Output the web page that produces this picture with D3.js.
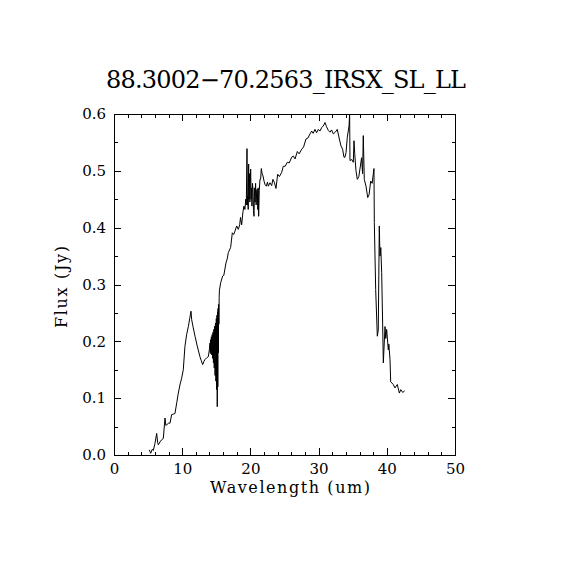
<!DOCTYPE html>
<html>
<head>
<meta charset="utf-8">
<script src="https://cdn.jsdelivr.net/npm/d3@7"></script>
<style>
  body { margin: 0; background: #fff; }
  svg { display: block; }
</style>
</head>
<body>
<div id="chart"></div>
<script>
// spectrum
const wavelength = [
  5.18, 5.38, 5.60, 5.77, 6.00, 6.26, 6.40, 6.50, 6.74, 7.00, 7.23, 7.48, 7.60, 7.72,
  8.00, 8.21, 8.45, 8.70, 8.94, 9.20, 9.43, 9.70, 9.92, 10.16, 10.40, 10.65, 10.90,
  11.10, 11.29, 11.39, 11.60, 11.88, 12.20, 12.60, 12.80, 13.00, 13.20, 13.34, 13.59,
  13.83, 13.98,
  14.08, 14.12, 14.16, 14.22, 14.28, 14.34, 14.40, 14.46, 14.52, 14.58, 14.64, 14.70,
  14.76, 14.82, 14.88, 14.94, 15.00, 15.06, 15.10, 15.14, 15.18, 15.22, 15.26, 15.30,
  15.34, 15.38, 15.42, 15.46,
  15.64, 15.93, 16.10, 16.42, 16.60, 16.76, 17.10, 17.35, 17.55, 17.74, 17.99, 18.23,
  18.43, 18.55, 18.72, 18.91, 19.05, 19.20, 19.31, 19.40, 19.50, 19.56, 19.62, 19.68,
  19.74, 19.80, 19.86, 19.92, 19.98, 20.04, 20.10, 20.16, 20.23, 20.30, 20.38, 20.45,
  20.53, 20.60, 20.68, 20.76, 20.84, 20.92, 21.01, 21.08, 21.14, 21.21, 21.30, 21.40,
  21.50, 21.60, 21.72, 21.85, 22.00, 22.14, 22.33, 22.50, 22.63, 22.87, 23.12, 23.30,
  23.50, 23.75, 24.00, 24.25, 24.58, 24.82, 25.10, 25.41, 25.70, 26.05, 26.30, 26.55,
  26.88, 27.15, 27.52, 27.80, 28.15, 28.45, 28.74, 28.99, 29.20, 29.47, 29.70, 29.96,
  30.20, 30.45, 30.69, 30.94, 31.15, 31.43, 31.67, 31.90, 32.16, 32.45, 32.74, 33.04,
  33.28, 33.52, 33.72, 33.87, 34.02, 34.21, 34.46, 34.55, 34.60, 34.85, 35.09, 35.19,
  35.30, 35.48, 35.68, 35.90, 36.17, 36.30, 36.45, 36.55, 36.70, 36.95, 37.20, 37.40,
  37.64, 37.85, 38.12, 38.17, 38.37, 38.61, 38.75, 38.90, 39.00, 39.12, 39.25, 39.39,
  39.49, 39.74, 39.85, 39.98, 40.22, 40.30, 40.47, 40.57, 40.95, 41.20, 41.54, 41.84,
  42.05, 42.33, 42.62
];
const flux = [
  0.009, 0.003, 0.010, 0.008, 0.020, 0.038, 0.022, 0.018, 0.023, 0.027, 0.029, 0.065, 0.052, 0.053,
  0.056, 0.056, 0.071, 0.072, 0.073, 0.092, 0.109, 0.125, 0.135, 0.150, 0.191, 0.212, 0.226,
  0.240, 0.253, 0.238, 0.225, 0.209, 0.192, 0.173, 0.166, 0.159, 0.165, 0.168, 0.171,
  0.173, 0.185,
  0.197, 0.180, 0.203, 0.178, 0.208, 0.176, 0.212, 0.170, 0.216, 0.162, 0.221, 0.153,
  0.227, 0.140, 0.232, 0.130, 0.240, 0.115, 0.246, 0.085, 0.252, 0.120, 0.258, 0.180,
  0.265, 0.230, 0.277, 0.290,
  0.303, 0.315, 0.316, 0.338, 0.345, 0.356, 0.365, 0.391, 0.388, 0.394, 0.403, 0.397,
  0.405, 0.418, 0.405, 0.428, 0.438, 0.432, 0.450, 0.440, 0.539, 0.440, 0.455, 0.432,
  0.512, 0.450, 0.495, 0.445, 0.480, 0.503, 0.450, 0.470, 0.438, 0.478, 0.468, 0.430,
  0.420, 0.470, 0.445, 0.478, 0.440, 0.465, 0.468, 0.432, 0.470, 0.420, 0.465, 0.485,
  0.485, 0.504, 0.495, 0.491, 0.482, 0.476, 0.473, 0.480, 0.473, 0.479, 0.474, 0.485,
  0.480, 0.469, 0.494, 0.490, 0.497, 0.508, 0.508, 0.515, 0.514, 0.524, 0.526, 0.521,
  0.534, 0.530, 0.538, 0.542, 0.556, 0.558, 0.565, 0.570, 0.566, 0.573, 0.567, 0.573,
  0.570, 0.576, 0.579, 0.585, 0.578, 0.571, 0.568, 0.572, 0.565, 0.568, 0.573, 0.556,
  0.544, 0.538, 0.524, 0.524, 0.532, 0.559, 0.579, 0.600, 0.518, 0.520, 0.515, 0.553,
  0.530, 0.500, 0.485, 0.490, 0.512, 0.523, 0.495, 0.562, 0.485, 0.473, 0.453, 0.458,
  0.482, 0.478, 0.504, 0.409, 0.291, 0.209, 0.220, 0.403, 0.350, 0.365, 0.321, 0.232,
  0.162, 0.226, 0.205, 0.221, 0.185, 0.195, 0.168, 0.129, 0.124, 0.118, 0.124, 0.109,
  0.115, 0.110, 0.113
];

const xMajor = [0, 10, 20, 30, 40, 50];
const xMinor = d3.range(0, 51, 2);
const yMajor = [0, 0.1, 0.2, 0.3, 0.4, 0.5, 0.6];
const yMinor = d3.range(0, 0.601, 0.05);

const title = "88.3002\u221270.2563_IRSX_SL_LL";
const xTitle = "Wavelength (um)";
const yTitle = "Flux (Jy)";

const width = 570, height = 570;
const plotL = 114, plotR = 455, plotT = 114, plotB = 455;
const font = "'DejaVu Serif', serif";

const svg = d3.select("#chart")
  .append("svg")
  .attr("width", width)
  .attr("height", height);

const x = d3.scaleLinear().domain([0, 50]).range([plotL, plotR]);
const y = d3.scaleLinear().domain([0, 0.6]).range([plotB, plotT]);

// ticks point inward on all four sides
function axisGroup(axis, tx, ty) {
  const g = svg.append("g")
    .attr("transform", `translate(${tx},${ty})`)
    .call(axis)
    .attr("font-family", font)
    .attr("font-size", 15);
  g.select(".domain").remove();
  g.selectAll("line").attr("stroke", "#000").attr("shape-rendering", "crispEdges");
  g.selectAll("text").attr("fill", "#000");
  return g;
}

axisGroup(d3.axisBottom(x).tickValues(xMinor).tickSize(-3.5).tickFormat(""), 0, plotB);
axisGroup(d3.axisTop(x).tickValues(xMinor).tickSize(-3.5).tickFormat(""), 0, plotT);
axisGroup(d3.axisLeft(y).tickValues(yMinor).tickSize(-3.5).tickFormat(""), plotL, 0);
axisGroup(d3.axisRight(y).tickValues(yMinor).tickSize(-3.5).tickFormat(""), plotR, 0);

axisGroup(d3.axisBottom(x).tickValues(xMajor).tickSize(-7).tickPadding(8).tickFormat(d3.format("d")), 0, plotB);
axisGroup(d3.axisTop(x).tickValues(xMajor).tickSize(-7).tickFormat(""), 0, plotT);
axisGroup(d3.axisLeft(y).tickValues(yMajor).tickSize(-7).tickPadding(8).tickFormat(d3.format(".1f")), plotL, 0);
axisGroup(d3.axisRight(y).tickValues(yMajor).tickSize(-7).tickFormat(""), plotR, 0);

// frame
svg.append("rect")
  .attr("x", plotL).attr("y", plotT)
  .attr("width", plotR - plotL).attr("height", plotB - plotT)
  .attr("fill", "none")
  .attr("stroke", "#000")
  .attr("shape-rendering", "crispEdges");

const pts = wavelength.map((w, i) => [w, flux[i]]);
svg.append("path")
  .datum(pts)
  .attr("d", d3.line().x(d => x(d[0])).y(d => y(d[1])))
  .attr("fill", "none")
  .attr("stroke", "#000")
  .attr("stroke-width", 1);

svg.append("text")
  .attr("x", 286).attr("y", 88)
  .attr("text-anchor", "middle")
  .attr("textLength", 360)
  .style("font-family", font)
  .style("font-size", "24px")
  .text(title);

svg.append("text")
  .attr("x", 290).attr("y", 493)
  .attr("text-anchor", "middle")
  .attr("textLength", 160)
  .style("font-family", font)
  .style("font-size", "16px")
  .text(xTitle);

svg.append("text")
  .attr("transform", "translate(67,287) rotate(-90)")
  .attr("text-anchor", "middle")
  .attr("textLength", 82)
  .style("font-family", font)
  .style("font-size", "16px")
  .text(yTitle);
</script>
</body>
</html>
